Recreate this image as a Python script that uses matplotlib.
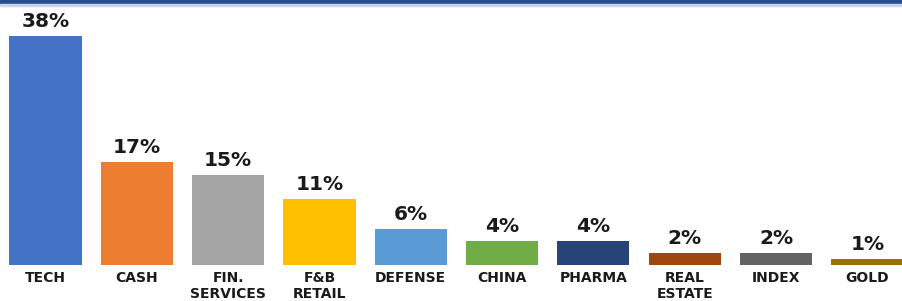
import matplotlib
matplotlib.use("Agg")
import matplotlib.pyplot as plt
from matplotlib.patches import Rectangle

categories = ["TECH", "CASH", "FIN.\nSERVICES", "F&B\nRETAIL", "DEFENSE", "CHINA",
              "PHARMA", "REAL\nESTATE", "INDEX", "GOLD"]
values = [38, 17, 15, 11, 6, 4, 4, 2, 2, 1]
colors = ["#4472C4", "#ED7D31", "#A5A5A5", "#FFC000", "#5B9BD5", "#70AD47",
          "#264478", "#9E480E", "#636363", "#997300"]

W, H = 903, 301
fig = plt.figure(figsize=(W / 100, H / 100), dpi=100)
fig.patch.set_facecolor("white")

ax = fig.add_axes([0, 36 / H, 1, 260 / H])
x = list(range(len(categories)))
bars = ax.bar(x, values, width=0.79, color=colors)
ax.set_xlim(-0.498, 9.39)
ax.set_ylim(0, 260 / 6.03)

for xi, v in zip(x, values):
    ax.annotate(f"{v}%", (xi, v), xytext=(0, 5), textcoords="offset pixels",
                ha="center", va="bottom", fontsize=14.5, fontweight="bold",
                color="#1a1a1a")

ax.set_xticks(x)
ax.set_xticklabels(categories, fontsize=10, fontweight="bold", color="#1a1a1a",
                   linespacing=1.2)
ax.tick_params(axis="x", length=0, pad=4)
ax.set_yticks([])
for s in ax.spines.values():
    s.set_visible(False)
ax.patch.set_alpha(0)

fig.patches.append(Rectangle((0, 1 - 4 / H), 1, 4 / H, transform=fig.transFigure,
                             color="#27508C", zorder=10))
fig.patches.append(Rectangle((0, 1 - 5.5 / H), 1, 1.5 / H, transform=fig.transFigure,
                             color="#C9D6E8", zorder=10))

fig.savefig("out.png", dpi=100)
